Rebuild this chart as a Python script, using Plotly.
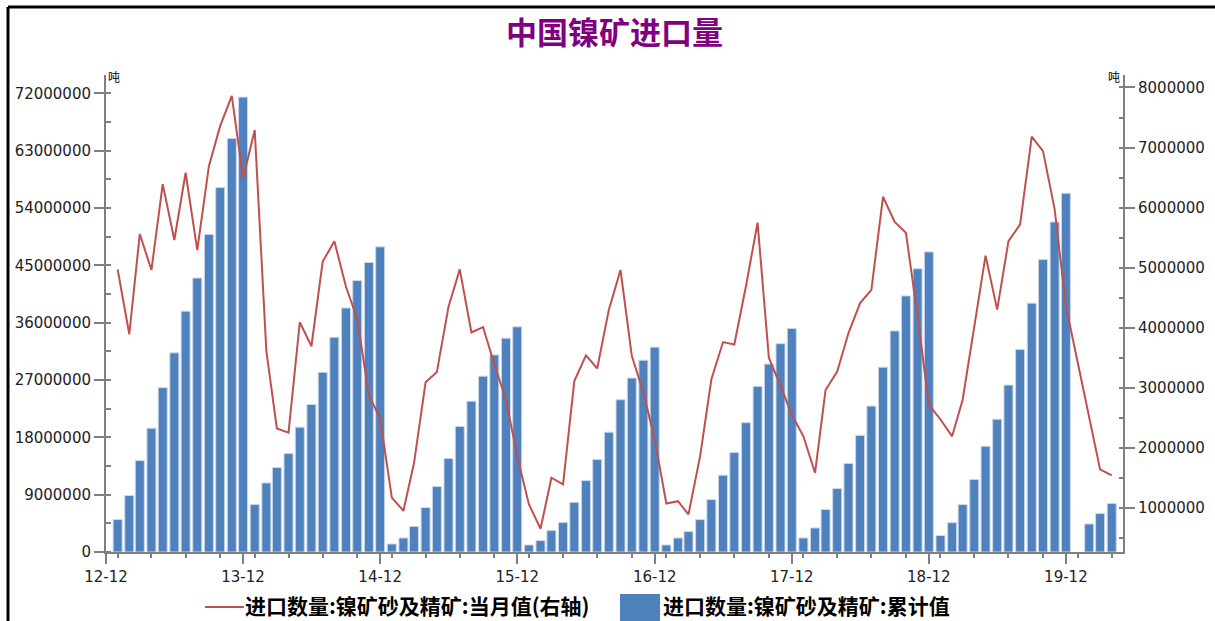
import plotly.graph_objects as go
import pandas as pd

# Months Jan 2013 .. Apr 2020
months = [d.strftime("%Y-%m-%d") for d in pd.date_range("2013-01-01", "2020-04-01", freq="MS")]

# Cumulative imports (tons) - left axis (bars)
cum_2013 = [5090000, 8860000, 14350000, 19430000, 25800000, 31260000, 37800000, 43000000, 49850000, 57200000, 64900000, 71400000]
cum_2014 = [7440000, 10840000, 13250000, 15450000, 19600000, 23150000, 28200000, 33700000, 38300000, 42600000, 45450000, 47900000]
cum_2015 = [1260000, 2200000, 4000000, 6970000, 10270000, 14670000, 19700000, 23670000, 27600000, 30940000, 33560000, 35340000]
cum_2016 = [1100000, 1790000, 3360000, 4620000, 7800000, 11200000, 14500000, 18800000, 23900000, 27300000, 30100000, 32150000]
cum_2017 = [1100000, 2200000, 3200000, 5090000, 8230000, 12050000, 15600000, 20300000, 26000000, 29500000, 32700000, 35100000]
cum_2018 = [2200000, 3770000, 6660000, 9960000, 13900000, 18300000, 22900000, 29000000, 34700000, 40200000, 44450000, 47100000]
cum_2019 = [2580000, 4600000, 7440000, 11370000, 16600000, 20840000, 26200000, 31800000, 39060000, 45900000, 51800000, 56300000]
cum_2020 = [None, 4400000, 6030000, 7600000]
cumulative = cum_2013 + cum_2014 + cum_2015 + cum_2016 + cum_2017 + cum_2018 + cum_2019 + cum_2020

# Monthly imports (tons) - right axis (line)
mon_2013 = [4970000, 3890000, 5560000, 4960000, 6390000, 5460000, 6580000, 5290000, 6690000, 7360000, 7860000, 6490000]
mon_2014 = [7290000, 3610000, 2320000, 2250000, 4090000, 3690000, 5100000, 5440000, 4680000, 4150000, 2870000, 2490000]
mon_2015 = [1170000, 950000, 1740000, 3090000, 3260000, 4350000, 4970000, 3920000, 4010000, 3390000, 2800000, 1860000]
mon_2016 = [1060000, 650000, 1500000, 1390000, 3110000, 3540000, 3320000, 4300000, 4960000, 3530000, 2920000, 2140000]
mon_2017 = [1070000, 1110000, 890000, 1860000, 3140000, 3760000, 3720000, 4690000, 5750000, 3500000, 3030000, 2550000]
mon_2018 = [2190000, 1580000, 2960000, 3270000, 3910000, 4410000, 4630000, 6180000, 5760000, 5580000, 4190000, 2720000]
mon_2019 = [2470000, 2190000, 2800000, 4060000, 5200000, 4300000, 5440000, 5720000, 7180000, 6940000, 5970000, 4360000]
mon_2020 = [3420000, 2530000, 1640000, 1540000]
monthly = mon_2013 + mon_2014 + mon_2015 + mon_2016 + mon_2017 + mon_2018 + mon_2019 + mon_2020

title_text = "中国镍矿进口量"
line_name = "进口数量:镍矿砂及精矿:当月值(右轴)"
bar_name = "进口数量:镍矿砂及精矿:累计值"
unit = "吨"

AX = "#808080"
CJK = "Noto Sans CJK SC"
LINE_C = "#C0504D"
BAR_C = "#4F81BD"

# plot area in pixels: x 106..1123, y 75..552
def px(x):
    return (x - 106) / 1017

def py(y):
    return (552 - y) / 477

fig = go.Figure()
fig.add_trace(go.Scatter(
    x=months, y=monthly, name=line_name, mode="lines",
    line=dict(color=LINE_C, width=2), yaxis="y2", showlegend=False,
))
fig.add_trace(go.Bar(
    x=months, y=cumulative, name=bar_name,
    marker=dict(color=BAR_C, line=dict(color="#C9D7EA", width=1)),
    width=24 * 86400000, yaxis="y", showlegend=False,
))

LEG_Y = 605

fig.update_layout(
    width=1215, height=621,
    margin=dict(l=106, r=92, t=75, b=69, autoexpand=False),
    paper_bgcolor="white", plot_bgcolor="white",
    font=dict(family="DejaVu Sans", size=15, color="#222222"),
    title=dict(text="<b>" + title_text + "</b>", x=0.5, xref="paper", xanchor="center",
               y=1 - 33 / 621, yref="container", yanchor="middle",
               font=dict(family=CJK, size=31, color="#800080")),
    showlegend=False,
    xaxis=dict(
        type="date", range=["2012-12-01", "2020-05-01"],
        dtick="M12", tick0="2012-12-01", tickformat="%y-%m",
        showgrid=False, zeroline=False,
        showline=True, linecolor=AX, linewidth=2,
        ticks="outside", ticklen=10, tickwidth=2, tickcolor=AX,
        minor=dict(dtick="M3", ticks="outside", ticklen=4, tickwidth=2, tickcolor=AX, showgrid=False),
    ),
    yaxis=dict(
        range=[0, 74870000], dtick=9000000, tick0=0, tickformat="d",
        showgrid=False, zeroline=False,
        showline=True, linecolor=AX, linewidth=2,
        ticks="outside", ticklen=10, tickwidth=2, tickcolor=AX,
        minor=dict(dtick=4500000, ticks="inside", ticklen=5, tickwidth=2, tickcolor=AX, showgrid=False),
    ),
    yaxis2=dict(
        overlaying="y", side="right",
        range=[263000, 8208000], dtick=1000000, tick0=0, tickformat="d",
        showgrid=False, zeroline=False,
        showline=True, linecolor=AX, linewidth=2,
        ticks="outside", ticklen=10, tickwidth=2, tickcolor=AX,
        minor=dict(dtick=500000, ticks="inside", ticklen=4, tickwidth=2, tickcolor=AX, showgrid=False),
    ),
    annotations=[
        dict(text=unit, xref="paper", yref="paper", x=px(114), y=py(76),
             xanchor="center", yanchor="middle", showarrow=False,
             font=dict(family=CJK, size=12, color="#000000")),
        dict(text=unit, xref="paper", yref="paper", x=px(1114), y=py(76),
             xanchor="center", yanchor="middle", showarrow=False,
             font=dict(family=CJK, size=12, color="#000000")),
        # legend texts
        dict(text="<b>" + line_name + "</b>", xref="paper", yref="paper", x=px(244), y=py(LEG_Y),
             xanchor="left", yanchor="middle", showarrow=False, borderpad=0,
             font=dict(family=CJK, size=21, color="#000000")),
        dict(text="<b>" + bar_name + "</b>", xref="paper", yref="paper", x=px(662), y=py(LEG_Y),
             xanchor="left", yanchor="middle", showarrow=False, borderpad=0,
             font=dict(family=CJK, size=21, color="#000000")),
    ],
    shapes=[
        # outer frame (top and left)
        dict(type="line", xref="paper", yref="paper",
             x0=px(8), x1=px(1230), y0=py(7), y1=py(7),
             line=dict(color="black", width=3)),
        dict(type="line", xref="paper", yref="paper",
             x0=px(8), x1=px(8), y0=py(7), y1=py(640),
             line=dict(color="black", width=3)),
        # legend symbols
        dict(type="line", xref="paper", yref="paper",
             x0=px(205), x1=px(244), y0=py(607), y1=py(607),
             line=dict(color=LINE_C, width=2)),
        dict(type="rect", xref="paper", yref="paper",
             x0=px(620), x1=px(660), y0=py(594), y1=py(622),
             line=dict(width=0), fillcolor=BAR_C),
    ],
)

fig.write_html("out.html")
